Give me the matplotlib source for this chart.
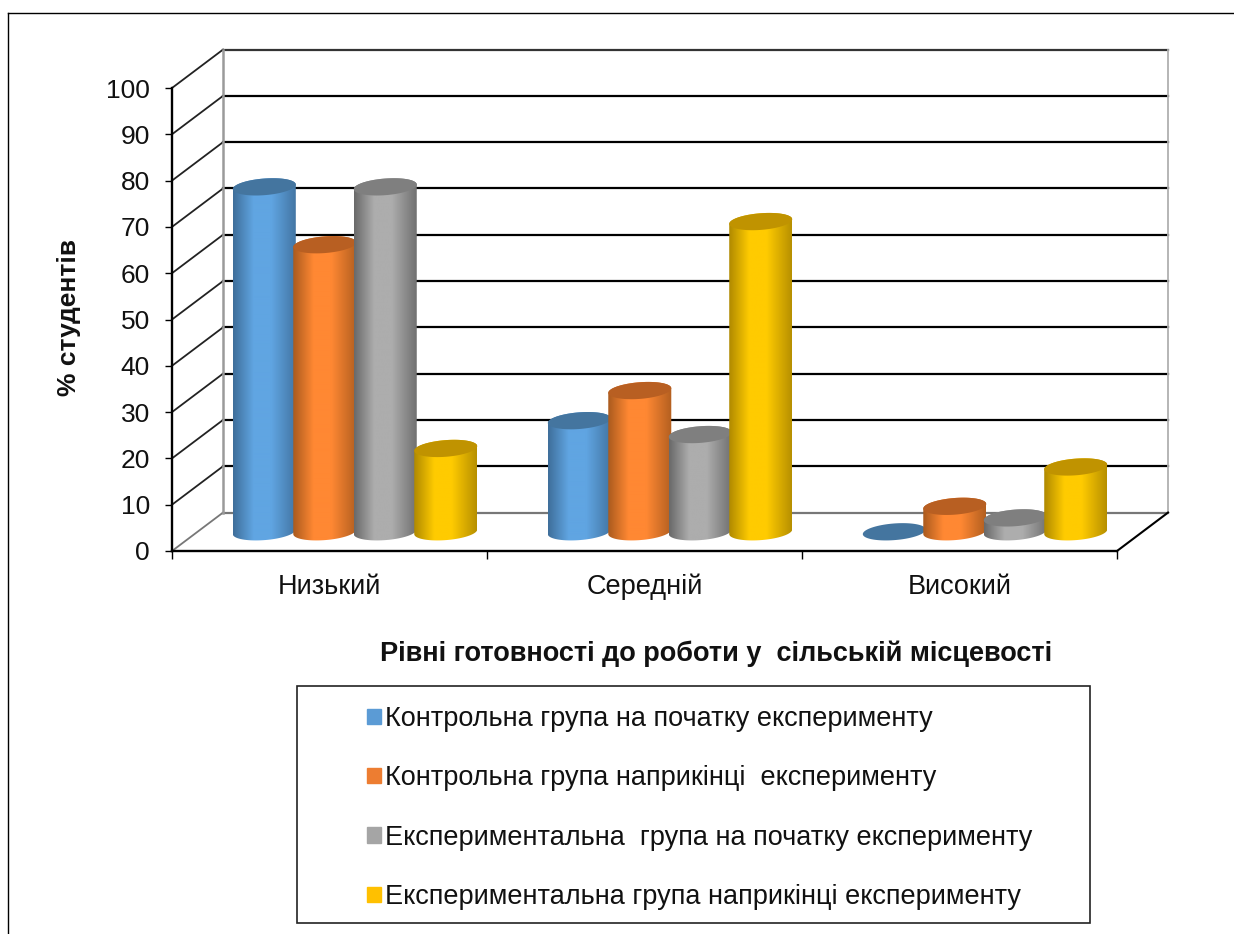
import numpy as np
import matplotlib
matplotlib.use("Agg")
import matplotlib.pyplot as plt
from matplotlib.patches import Patch, Polygon, Rectangle
from matplotlib.lines import Line2D

plt.rcParams['font.family'] = ['Liberation Sans', 'DejaVu Sans']

categories = ["Низький", "Середній", "Високий"]
series_names = ["Контрольна група на початку експерименту",
                "Контрольна група наприкінці  експерименту",
                "Експериментальна  група на початку експерименту",
                "Експериментальна група наприкінці експерименту"]
control_start = [74.5, 24, 0]
control_end = [62, 30.5, 5.5]
exper_start = [74.5, 21, 3]
exper_end = [18, 67, 14]
y_ticks = [0, 10, 20, 30, 40, 50, 60, 70, 80, 90, 100]

# side, front and top colours of each cylinder
edge_colors = ["#3f6f9b", "#ab5b1e", "#6a6a6a", "#b08a00"]
mid_colors = ["#60a5e2", "#ff8833", "#adadad", "#ffcb00"]
top_colors = ["#44759f", "#b85f22", "#7f7f7f", "#c09300"]
legend_colors = ["#5b9bd5", "#ed7d31", "#a5a5a5", "#ffc000"]

W, H = 1234, 934
fig = plt.figure(figsize=(W / 100, H / 100), dpi=100)
ax = fig.add_axes([172 / W, 1 - 551 / H, 945 / W, 463 / H])

# 3d look: depth of the box, in data units
dx = 0.162
dy = 8.3
bar_step = 0.192
a = 0.1    # half width of a cylinder
b = 1.8    # half height of the ellipse
k = 0.5    # tilt of the ellipse

for v in y_ticks:
    col = "#777777" if v == 0 else ("#333333" if v == 100 else "black")
    ax.plot([dx, 3 + dx], [v + dy, v + dy], color=col, lw=1.6, zorder=1, clip_on=False)
    col = "#777777" if v == 0 else "#222222"
    ax.plot([0, dx], [v, v + dy], color=col, lw=1.3, zorder=1, clip_on=False)
ax.plot([dx, dx], [dy, 100 + dy], color="#9a9a9a", lw=1.8, zorder=1, clip_on=False)
ax.plot([3 + dx, 3 + dx], [dy, 100 + dy], color="#b0b0b0", lw=1.3, zorder=1, clip_on=False)
ax.plot([3, 3 + dx], [0, dy], color="black", lw=1.5, zorder=1, clip_on=False)


def make_ramp(c_edge, c_mid):
    c1 = np.array(matplotlib.colors.to_rgb(c_edge))
    c2 = np.array(matplotlib.colors.to_rgb(c_mid))
    pos = np.linspace(0, 1, 64)
    w = np.interp(pos, [0, 0.32, 0.6, 1], [0, 1, 1, 0.1])
    return (c1[None, :] * (1 - w[:, None]) + c2[None, :] * w[:, None])[None, :, :]


def draw_cylinder(cx, val, i, z):
    base = dy / 2
    top = base + val
    t1 = np.linspace(np.pi, 2 * np.pi, 40)
    t2 = np.linspace(0, np.pi, 40)
    low = np.column_stack([cx + a * np.cos(t1), base + b * np.sin(t1) + k * np.cos(t1)])
    upp = np.column_stack([cx + a * np.cos(t2), top + b * np.sin(t2) + k * np.cos(t2)])
    if val > 0:
        body = Polygon(np.vstack([low, upp]), closed=True, transform=ax.transData)
        im = ax.imshow(make_ramp(edge_colors[i], mid_colors[i]), aspect='auto',
                       extent=[cx - a, cx + a, base - 3, top + 3], zorder=z,
                       interpolation='bilinear')
        im.set_clip_path(body)
    t = np.linspace(0, 2 * np.pi, 80)
    ax.fill(cx + a * np.cos(t), top + b * np.sin(t) + k * np.cos(t),
            color=top_colors[i], lw=0, zorder=z + 0.5)


all_series = [control_start, control_end, exper_start, exper_end]
for g in range(len(categories)):
    for i, vals in enumerate(all_series):
        cx = g + 0.5 + (i - 1.5) * bar_step + dx / 2
        draw_cylinder(cx, vals[g], i, 3 + g * 4 + i)

ax.set_xlim(0, 3)
ax.set_ylim(0, 100)
ax.patch.set_visible(False)
for s in ['top', 'right']:
    ax.spines[s].set_visible(False)
for s in ['left', 'bottom']:
    ax.spines[s].set_linewidth(1.7)
ax.set_yticks(y_ticks)
ax.set_xticks([0, 1, 2, 3])
ax.set_xticklabels([])
ax.set_xticks([0.5, 1.5, 2.5], minor=True)
ax.set_xticklabels(categories, minor=True, fontsize=19.5, color="#111111")
ax.tick_params(axis='y', length=5, width=1, pad=11, labelsize=19, labelcolor="#111111")
ax.tick_params(axis='x', which='major', length=6, width=1)
ax.tick_params(axis='x', which='minor', length=0, pad=16.5)

fig.text(69 / W, 1 - 317 / H, "% студентів", rotation=90, fontsize=19, fontweight='bold',
         ha='center', va='center', color="#111111")
fig.text(716 / W, 1 - 654 / H, "Рівні готовності до роботи у  сільській місцевості", fontsize=19.5,
         fontweight='bold', ha='center', va='center', color="#111111")

# legend box is wider than its text, so frame is a separate patch
fig.add_artist(Rectangle((297 / W, 1 - 923 / H), 793 / W, 237 / H, transform=fig.transFigure,
                         fill=False, edgecolor="#222222", lw=1.2))
handles = [Patch(color=c, label=n) for c, n in zip(legend_colors, series_names)]
fig.legend(handles=handles, frameon=False, loc='upper left', bbox_to_anchor=(367 / W, 1 - 706 / H),
           borderpad=0, borderaxespad=0, fontsize=19.5, labelspacing=1.23, handlelength=0.5,
           handleheight=0.5, handletextpad=0.15, labelcolor="#111111")

# outer frame of the original picture
fig.add_artist(Line2D([8 / W, 1], [1 - 13 / H, 1 - 13 / H], color="black", lw=1))
fig.add_artist(Line2D([8 / W, 8 / W], [0, 1 - 13 / H], color="black", lw=1))

fig.savefig("out.png", dpi=100)
